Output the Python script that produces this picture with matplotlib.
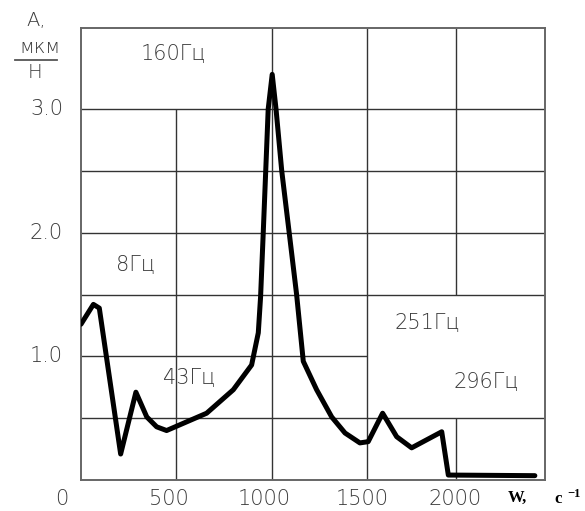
import numpy as np
from matplotlib import pyplot as plt

# frequency axis is compressed above 1500 on the original drawing
SPLIT = 1500
SQUEEZE = 0.934

w = [0, 65, 96, 152, 208, 288, 345, 397, 449, 554, 659, 799, 895, 930, 942, 956, 982, 1003,
     1023, 1053, 1096, 1131, 1166, 1236, 1315, 1385, 1463, 1507, 1588, 1667, 1751, 1920, 1957, 2443]
A = [1.26, 1.42, 1.39, 0.80, 0.21, 0.71, 0.51, 0.43, 0.40, 0.47, 0.54, 0.73, 0.93, 1.19, 1.48, 2.0, 3.0, 3.28,
     3.0, 2.5, 1.95, 1.5, 0.96, 0.73, 0.51, 0.38, 0.30, 0.31, 0.54, 0.35, 0.26, 0.39, 0.04, 0.035]

xtick_vals = [0, 500, 1000, 1500, 2000]
xtick_labels = ['0', '500', '1000', '1500', '2000']
ytick_vals = [1.0, 2.0, 3.0]
ytick_labels = ['1.0', '2.0', '3.0']

peak_labels = ['160Гц', '8Гц', '43Гц', '251Гц', '296Гц']

W_PX, H_PX = 585, 511
TXT = '#3a3a3a'
FONT = 'DejaVu Sans'
FS = 15


def fwd(x):
    x = np.asarray(x, dtype=float)
    return np.where(x <= SPLIT, x, SPLIT + (x - SPLIT) * SQUEEZE)


def inv(x):
    x = np.asarray(x, dtype=float)
    return np.where(x <= SPLIT, x, SPLIT + (x - SPLIT) / SQUEEZE)


def px(x, y):
    # pixel position of the reference -> figure fraction
    return x / W_PX, 1 - y / H_PX


fig = plt.figure(figsize=(W_PX / 100, H_PX / 100), dpi=100)
ax = fig.add_axes([81 / W_PX, 1 - 480 / H_PX, 464 / W_PX, 452 / H_PX])
ax.set_xscale('function', functions=(fwd, inv))
ax.set_xlim(0, 2500)
ax.set_ylim(0, 3.655)
ax.set_xticks([])
ax.set_yticks([])
for s in ax.spines.values():
    s.set_color('#666666')
    s.set_linewidth(1.4)

# grid, with the gaps of the original
gc = '#333333'
ax.hlines([0.5, 1.5, 2.0, 2.5, 3.0], 0, 2500, colors=gc, lw=1.0, zorder=1)
ax.hlines(1.0, 0, 1500, colors=gc, lw=1.0, zorder=1)
ax.vlines(500, 0, 3.0, colors=gc, lw=1.0, zorder=1)
ax.vlines([1000, 1500], 0, 3.655, colors=gc, lw=1.0, zorder=1)
ax.vlines(2000, 0, 0.5, colors=gc, lw=1.0, zorder=1)
ax.vlines(2000, 1.5, 3.655, colors=gc, lw=1.0, zorder=1)

ax.plot(w, A, color='black', lw=3.6, solid_joinstyle='round', solid_capstyle='round', zorder=3)

# tick labels
xlab_px = [62, 169, 264, 362, 455]
for xp, lab in zip(xlab_px, xtick_labels):
    fig.text(*px(xp, 499), lab, ha='center', va='center', fontsize=FS, color=TXT,
             family=FONT, fontweight='light')
for v, lab in zip(ytick_vals, ytick_labels):
    y_pix = 480 - v * 123.7
    fig.text(*px(63, y_pix), lab, ha='right', va='center', fontsize=FS, color=TXT,
             family=FONT, fontweight='light')

# peak labels
label_px = [(173, 54), (136, 265), (189, 378), (427, 323), (486, 382)]
for (xp, yp), lab in zip(label_px, peak_labels):
    fig.text(*px(xp, yp), lab, ha='center', va='center', fontsize=FS, color=TXT,
             family=FONT, fontweight='light')

# y axis unit  A, мкм / Н
fig.text(*px(36, 20), 'А,', ha='center', va='center', fontsize=14, color=TXT, family=FONT, fontweight='light')
fig.text(*px(40, 47), 'мкм', ha='center', va='center', fontsize=14, color=TXT, family=FONT, fontweight='light')
fig.add_artist(plt.Line2D([15 / W_PX, 57 / W_PX], [1 - 60 / H_PX] * 2, color='#555555', lw=1.3))
fig.text(*px(35, 72), 'Н', ha='center', va='center', fontsize=14, color=TXT, family=FONT, fontweight='light')

# x axis unit  W, c^-1
fig.text(*px(517, 498), 'W,', ha='center', va='center', fontsize=12, family='Liberation Serif',
         fontweight='bold', color='black')
fig.text(*px(558, 499), 'c', ha='center', va='center', fontsize=12, family='Liberation Serif',
         fontweight='bold', color='black')
fig.text(*px(574, 494), '−1', ha='center', va='center', fontsize=9, family='Liberation Serif',
         fontweight='bold', color='black')

fig.savefig('out.png', dpi=100)
